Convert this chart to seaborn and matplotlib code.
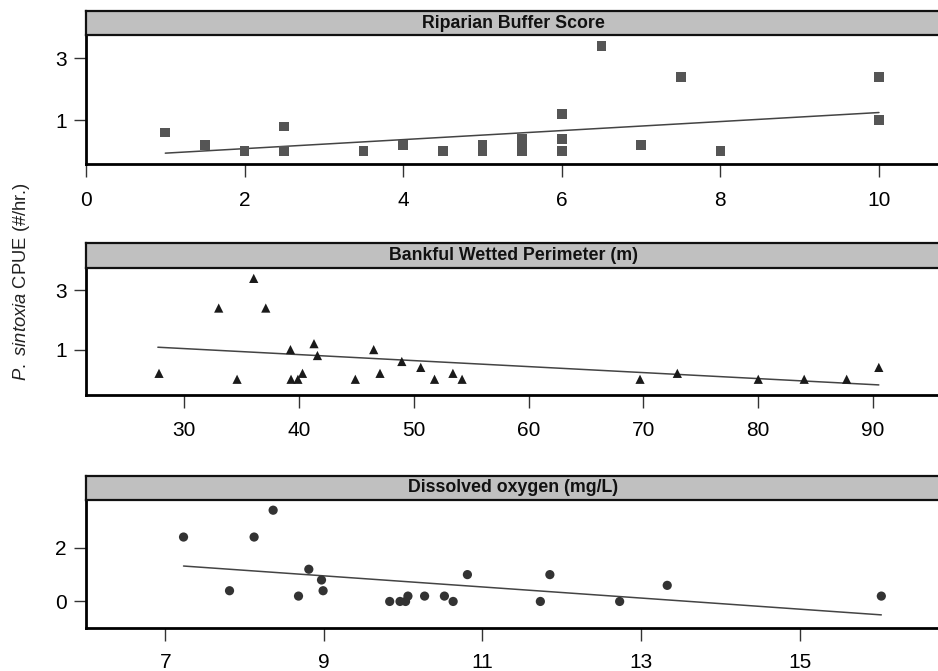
import matplotlib
matplotlib.use("Agg")
import matplotlib.pyplot as plt
import seaborn as sns
import pandas as pd

# Riparian buffer score panel
buffer_score = [1.0, 1.5, 2.0, 2.5, 2.5, 3.5, 4.0, 4.5, 5.0, 5.0, 5.5, 5.5, 5.5,
                6.0, 6.0, 6.0, 6.5, 7.0, 7.5, 8.0, 10.0, 10.0]
buffer_cpue = [0.6, 0.2, 0.0, 0.8, 0.0, 0.0, 0.2, 0.0, 0.2, 0.0, 0.4, 0.2, 0.0,
               1.2, 0.4, 0.0, 3.4, 0.2, 2.4, 0.0, 2.4, 1.0]
buffer_fit_x = [1.0, 10.0]
buffer_fit_y = [-0.06, 1.25]

# Bankful wetted perimeter panel
perimeter_m = [27.8, 33.0, 34.6, 36.05, 37.1, 39.25, 39.3, 39.9, 40.3, 41.3, 41.6,
               44.9, 46.5, 47.05, 48.95, 50.6, 51.8, 53.4, 54.2, 69.7, 72.95,
               80.0, 84.0, 87.7, 90.5]
perimeter_cpue = [0.2, 2.4, 0.0, 3.4, 2.4, 1.0, 0.0, 0.0, 0.2, 1.2, 0.8,
                  0.0, 1.0, 0.2, 0.6, 0.4, 0.0, 0.2, 0.0, 0.0, 0.2,
                  0.0, 0.0, 0.0, 0.4]
perimeter_fit_x = [27.7, 90.5]
perimeter_fit_y = [1.08, -0.19]

# Dissolved oxygen panel
oxygen_mgl = [7.23, 7.81, 8.12, 8.36, 8.68, 8.81, 8.97, 8.99, 9.83, 9.96, 10.03,
              10.06, 10.27, 10.52, 10.63, 10.81, 11.73, 11.85, 12.73, 13.33, 16.03]
oxygen_cpue = [2.4, 0.4, 2.4, 3.4, 0.2, 1.2, 0.8, 0.4, 0.0, 0.0, 0.0,
               0.2, 0.2, 0.2, 0.0, 1.0, 0.0, 1.0, 0.0, 0.6, 0.2]
oxygen_fit_x = [7.23, 16.03]
oxygen_fit_y = [1.32, -0.5]

panel_titles = ["Riparian Buffer Score", "Bankful Wetted Perimeter (m)",
                "Dissolved oxygen (mg/L)"]
y_label_rest = " CPUE (#/hr.)"

sns.set_style("ticks")
plt.rcParams["font.family"] = ["Liberation Sans", "DejaVu Sans"]
plt.rcParams["mathtext.fontset"] = "custom"
plt.rcParams["mathtext.rm"] = "Liberation Sans"
plt.rcParams["mathtext.it"] = "Liberation Sans:italic"

W, H = 938, 671
fig = plt.figure(figsize=(W / 100, H / 100), dpi=100)

panels = [
    dict(x=buffer_score, y=buffer_cpue, fx=buffer_fit_x, fy=buffer_fit_y,
         marker="s", color="#555555", size=48,
         strip=(11, 35.3), plot_bottom=163.7, xpad=10.8,
         xlim=(0.0, 10.77), ylim=(-0.4, 3.74),
         xticks=[0, 2, 4, 6, 8, 10], yticks=[1, 3]),
    dict(x=perimeter_m, y=perimeter_cpue, fx=perimeter_fit_x, fy=perimeter_fit_y,
         marker="^", color="#1a1a1a", size=44,
         strip=(243.3, 267.7), plot_bottom=395.0, xpad=9.4,
         xlim=(21.44, 95.83), ylim=(-0.53, 3.76),
         xticks=[30, 40, 50, 60, 70, 80, 90], yticks=[1, 3]),
    dict(x=oxygen_mgl, y=oxygen_cpue, fx=oxygen_fit_x, fy=oxygen_fit_y,
         marker="o", color="#333333", size=44,
         strip=(475.7, 500.0), plot_bottom=628.3, xpad=8.6,
         xlim=(6.0, 16.77), ylim=(-1.0, 3.78),
         xticks=[7, 9, 11, 13, 15], yticks=[0, 2]),
]

left_px = 86
width_px = 854

for p, title in zip(panels, panel_titles):
    s_top, s_bot = p["strip"]
    # data area
    ax = fig.add_axes([left_px / W, 1 - p["plot_bottom"] / H,
                       width_px / W, (p["plot_bottom"] - s_bot) / H])
    df = pd.DataFrame({"x": p["x"], "y": p["y"]})
    fit = pd.DataFrame({"x": p["fx"], "y": p["fy"]})
    sns.lineplot(data=fit, x="x", y="y", ax=ax, color="#444444", linewidth=1.1,
                 zorder=2)
    sns.scatterplot(data=df, x="x", y="y", ax=ax, marker=p["marker"],
                    color=p["color"], s=p["size"], edgecolor="none",
                    linewidth=0, zorder=3)
    ax.set_xlim(*p["xlim"])
    ax.set_ylim(*p["ylim"])
    ax.set_xticks(p["xticks"])
    ax.set_yticks(p["yticks"])
    ax.set_xlabel("")
    ax.set_ylabel("")
    for side in ("top", "right"):
        ax.spines[side].set_visible(False)
    for side in ("left", "bottom"):
        ax.spines[side].set_linewidth(2.0)
        ax.spines[side].set_color("black")
    ax.tick_params(axis="both", direction="out", length=9, width=1.0,
                   color="#333333", labelsize=15, labelcolor="black")
    ax.tick_params(axis="x", pad=p["xpad"])
    ax.tick_params(axis="y", pad=5)

    # strip header
    sax = fig.add_axes([left_px / W, 1 - s_bot / H,
                        width_px / W, (s_bot - s_top) / H])
    sax.set_facecolor("#c0c0c0")
    sax.set_xticks([])
    sax.set_yticks([])
    for side in ("top", "bottom", "left"):
        sax.spines[side].set_visible(True)
        sax.spines[side].set_color("#111111")
        sax.spines[side].set_linewidth(1.6)
    sax.spines["right"].set_visible(False)
    sax.text(0.5, 0.5, title, transform=sax.transAxes, ha="center",
             va="center", fontsize=12.8, fontweight="bold", color="#111111")

fig.text(22 / W, 1 - 281 / H, r"$\mathit{P.\ sintoxia}$" + y_label_rest,
         rotation=90, ha="center", va="center", fontsize=13.2, color="#222222")

fig.savefig("out.png", dpi=100, facecolor="white")
